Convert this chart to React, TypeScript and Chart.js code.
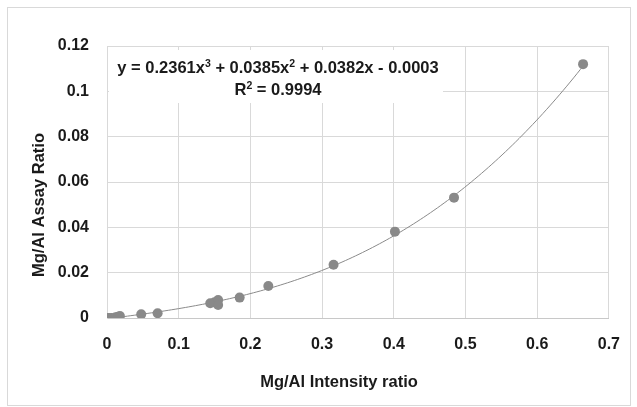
import React, { useEffect, useRef } from 'react';
import { Chart, registerables } from 'chart.js';

Chart.register(...registerables);

// ---- data ----
const intensityRatio = [0, 0.003, 0.0065, 0.012, 0.0155, 0.018, 0.0477, 0.0706, 0.144, 0.15, 0.155, 0.155, 0.185, 0.225, 0.316, 0.4016, 0.484, 0.664];
const assayRatio = [0, 0, 0, 0.0003, 0.0006, 0.0009, 0.0016, 0.0021, 0.0065, 0.0069, 0.0079, 0.0057, 0.009, 0.0141, 0.0235, 0.0381, 0.0531, 0.112];

// cubic trendline coefficients: x^3, x^2, x, constant
const trendCoeffs = [0.2361, 0.0385, 0.0382, -0.0003];
const rSquared = '0.9994';
const trendRange = [0, 0.665];

const xTicks = [0, 0.1, 0.2, 0.3, 0.4, 0.5, 0.6, 0.7];
const yTicks = [0, 0.02, 0.04, 0.06, 0.08, 0.1, 0.12];

const xTitle = 'Mg/Al Intensity ratio';
const yTitle = 'Mg/Al Assay Ratio';

const FONT = "'Liberation Sans', Arial, sans-serif";

function trendValue(x: number) {
  const [a, b, c, d] = trendCoeffs;
  return a * x * x * x + b * x * x + c * x + d;
}

function fmt(v: number) {
  return String(+v.toFixed(4));
}

const overlayPlugin = {
  id: 'overlay',
  beforeDatasetsDraw(chart: any) {
    const ctx = chart.ctx;
    ctx.save();
    ctx.fillStyle = '#ffffff';
    ctx.fillRect(109, 50, 334, 53);
    ctx.restore();
  },
  afterDraw(chart: any) {
    const ctx = chart.ctx as CanvasRenderingContext2D;
    ctx.save();
    // outer frame
    ctx.strokeStyle = '#d9d9d9';
    ctx.lineWidth = 1;
    ctx.strokeRect(7.5, 7.5, 623, 398);

    // axis titles
    ctx.fillStyle = '#1a1a1a';
    ctx.font = `bold 16.5px ${FONT}`;
    ctx.textAlign = 'center';
    ctx.textBaseline = 'middle';
    ctx.fillText(xTitle, 339, 382);
    ctx.save();
    ctx.translate(39, 205);
    ctx.rotate(-Math.PI / 2);
    ctx.fillText(yTitle, 0, 0);
    ctx.restore();

    // trendline equation
    const [a, b, c, d] = trendCoeffs;
    const sign = (v: number) => (v < 0 ? ' - ' : ' + ');
    const segs: { t: string; sup?: boolean }[] = [
      { t: `y = ${a.toFixed(4)}x` },
      { t: '3', sup: true },
      { t: `${sign(b)}${Math.abs(b).toFixed(4)}x` },
      { t: '2', sup: true },
      { t: `${sign(c)}${Math.abs(c).toFixed(4)}x${sign(d)}${Math.abs(d).toFixed(4)}` },
    ];
    const mainFont = `bold 16.5px ${FONT}`;
    const supFont = `bold 10.5px ${FONT}`;
    const drawRich = (parts: { t: string; sup?: boolean }[], cx: number, baseline: number) => {
      let total = 0;
      for (const p of parts) {
        ctx.font = p.sup ? supFont : mainFont;
        total += ctx.measureText(p.t).width;
      }
      let x = cx - total / 2;
      ctx.textAlign = 'left';
      ctx.textBaseline = 'alphabetic';
      for (const p of parts) {
        ctx.font = p.sup ? supFont : mainFont;
        ctx.fillText(p.t, x, p.sup ? baseline - 6 : baseline);
        x += ctx.measureText(p.t).width;
      }
    };
    drawRich(segs, 278, 73);
    drawRich([{ t: 'R' }, { t: '2', sup: true }, { t: ` = ${rSquared}` }], 278, 95);
    ctx.restore();
  },
};

export default function App() {
  const ref = useRef<HTMLCanvasElement | null>(null);

  useEffect(() => {
    if (!ref.current) return;
    const trendPts: { x: number; y: number }[] = [];
    const steps = 140;
    for (let i = 0; i <= steps; i++) {
      const x = trendRange[0] + ((trendRange[1] - trendRange[0]) * i) / steps;
      trendPts.push({ x, y: trendValue(x) });
    }
    const pts = intensityRatio.map((x, i) => ({ x, y: assayRatio[i] }));

    const chart = new Chart(ref.current, {
      type: 'scatter',
      data: {
        datasets: [
          {
            label: 'Samples',
            data: pts,
            backgroundColor: '#898989',
            borderWidth: 0,
            pointRadius: 5,
            order: 1,
          },
          {
            label: 'Poly. trend',
            type: 'line',
            data: trendPts,
            borderColor: '#8a8a8a',
            borderWidth: 1,
            pointRadius: 0,
            tension: 0,
            fill: false,
            order: 2,
          } as any,
        ],
      },
      options: {
        animation: false,
        responsive: false,
        layout: { padding: { left: 0, right: 21, top: 46, bottom: 0 } },
        plugins: {
          legend: { display: false },
          tooltip: { enabled: false },
        },
        scales: {
          x: {
            type: 'linear',
            min: 0,
            max: 0.7,
            afterBuildTicks: (s: any) => {
              s.ticks = xTicks.map((v) => ({ value: v }));
            },
            afterFit: (s: any) => {
              s.height = 89;
            },
            grid: { color: '#d9d9d9', drawTicks: false, lineWidth: 1 },
            border: { color: '#c8c8c8' },
            ticks: {
              padding: 17,
              color: '#1a1a1a',
              font: { family: FONT, size: 16, weight: 'bold' },
              callback: (v: any) => fmt(Number(v)),
              maxRotation: 0,
            },
          },
          y: {
            type: 'linear',
            min: 0,
            max: 0.12,
            afterBuildTicks: (s: any) => {
              s.ticks = yTicks.map((v) => ({ value: v }));
            },
            afterFit: (s: any) => {
              s.width = 107;
            },
            grid: { color: '#d9d9d9', drawTicks: false, lineWidth: 1 },
            border: { color: '#d9d9d9' },
            ticks: {
              padding: 18,
              color: '#1a1a1a',
              font: { family: FONT, size: 16, weight: 'bold' },
              callback: (v: any) => fmt(Number(v)),
            },
          },
        },
      },
      plugins: [overlayPlugin],
    });
    return () => chart.destroy();
  }, []);

  return (
    <div style={{ position: 'fixed', left: 0, top: 0, width: 637, height: 407, background: '#fff' }}>
      <canvas ref={ref} width={637} height={407} style={{ display: 'block', width: 637, height: 407 }} />
    </div>
  );
}
